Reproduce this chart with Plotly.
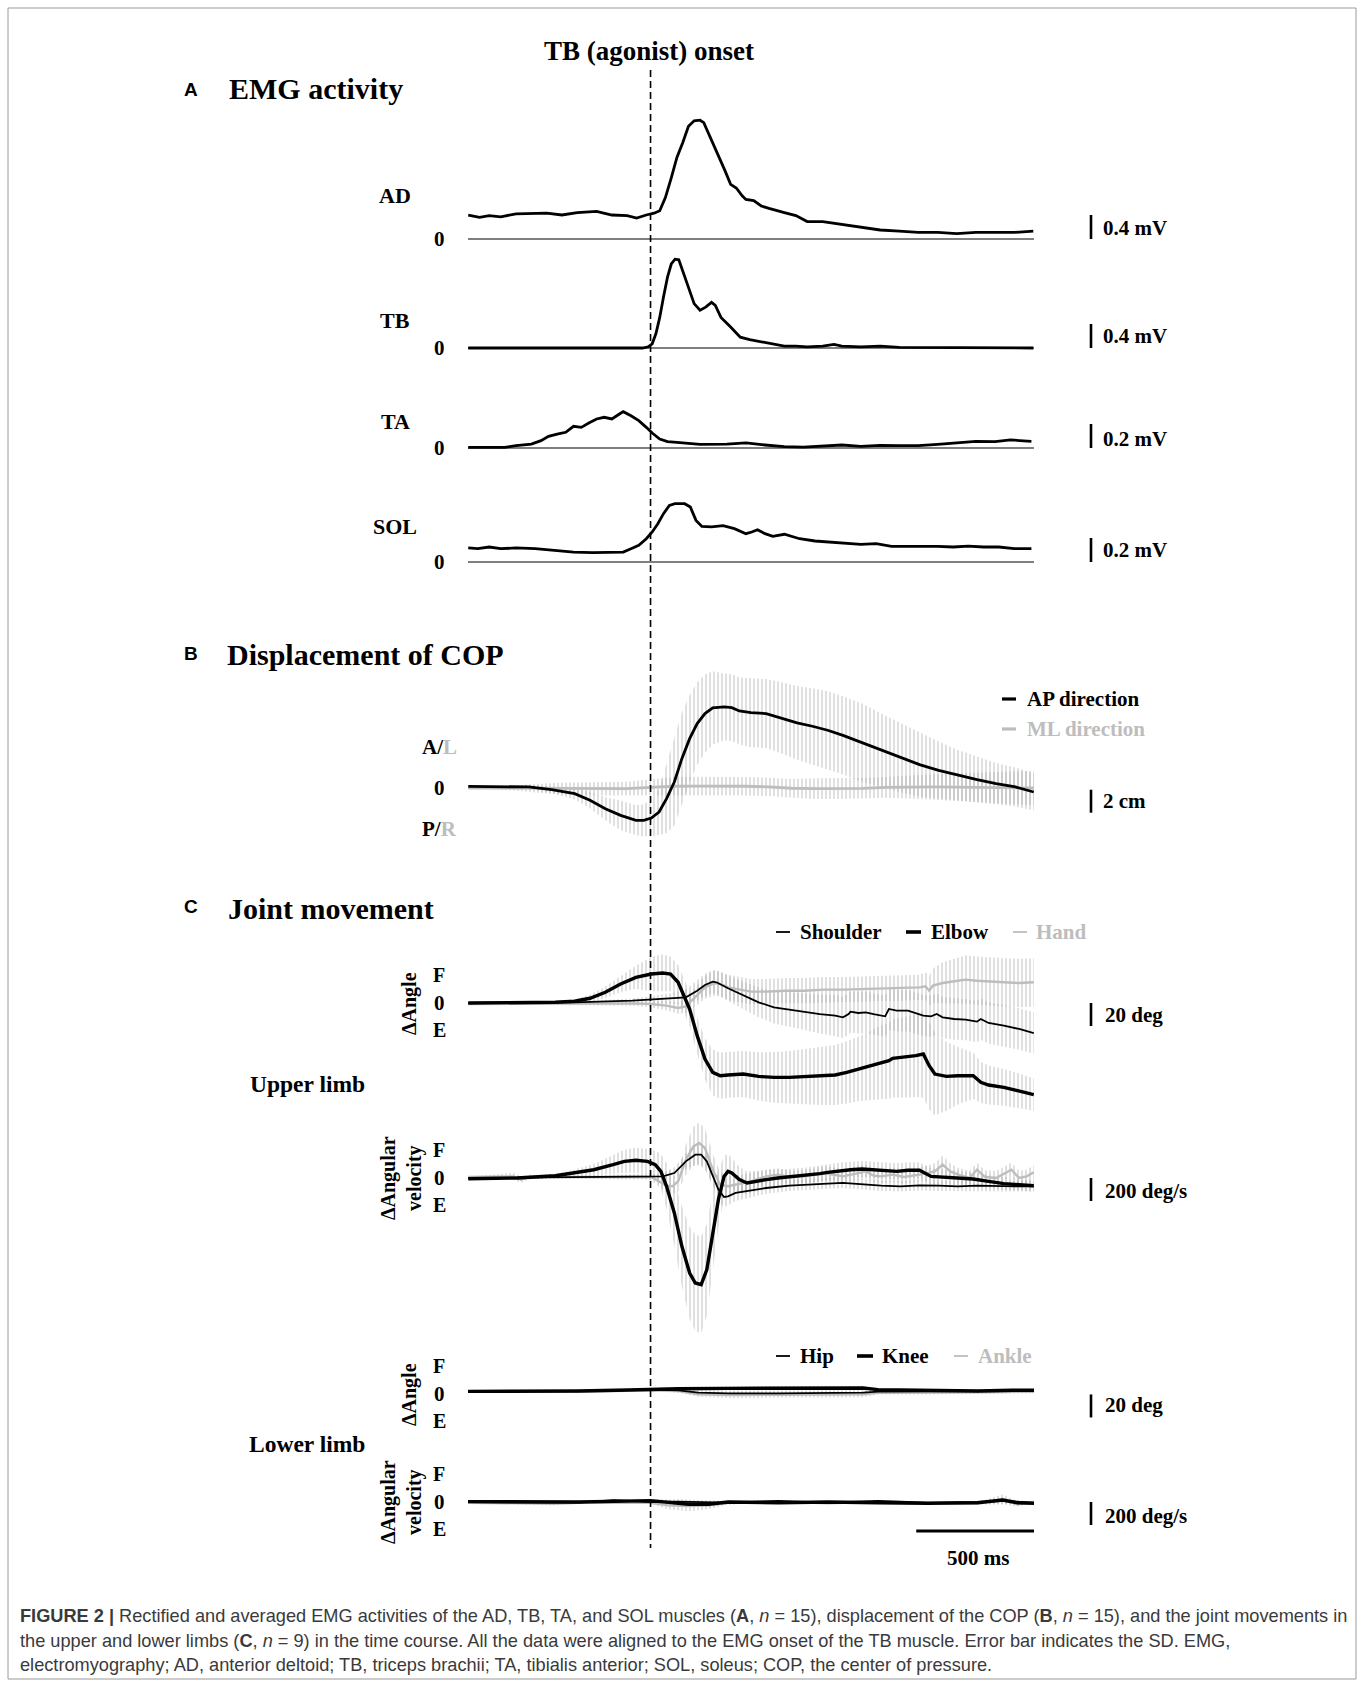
import plotly.graph_objects as go

W, H = 1363, 1686

# ---------------- DATA ----------------
# A: EMG (mV), time in ms relative to TB onset
t_ad = [-774, -726, -685, -636, -571, -506, -441, -376, -311, -229, -164, -99, -59, -18, 15, 39, 63, 88, 112, 137, 161, 185, 210, 226, 242, 267, 291, 316, 340, 364, 389, 405, 438, 470, 503, 535, 568, 617, 665, 731, 812, 893, 975, 1056, 1137, 1219, 1300, 1381, 1463, 1544, 1625]
ad = [0.40, 0.36, 0.39, 0.37, 0.42, 0.43, 0.43, 0.40, 0.44, 0.46, 0.40, 0.39, 0.35, 0.40, 0.43, 0.47, 0.69, 1.02, 1.36, 1.61, 1.88, 1.97, 1.98, 1.94, 1.80, 1.58, 1.36, 1.14, 0.91, 0.85, 0.72, 0.66, 0.64, 0.55, 0.51, 0.47, 0.44, 0.39, 0.29, 0.29, 0.24, 0.19, 0.15, 0.13, 0.11, 0.11, 0.09, 0.11, 0.11, 0.11, 0.13]

t_tb = [-774, -34, -10, 7, 23, 39, 55, 72, 88, 104, 120, 137, 161, 185, 210, 234, 259, 275, 299, 340, 381, 421, 470, 519, 568, 617, 665, 731, 779, 812, 893, 975, 1056, 1625]
tb = [0, 0, 0.02, 0.07, 0.24, 0.51, 0.85, 1.18, 1.40, 1.48, 1.47, 1.29, 1.01, 0.74, 0.63, 0.68, 0.76, 0.71, 0.51, 0.35, 0.18, 0.14, 0.10, 0.07, 0.03, 0.03, 0.02, 0.03, 0.06, 0.03, 0.02, 0.03, 0.01, 0]

t_ta = [-774, -620, -571, -506, -465, -433, -392, -360, -327, -294, -262, -229, -197, -164, -132, -116, -83, -50, -18, 7, 39, 72, 112, 210, 324, 405, 486, 568, 649, 731, 812, 893, 975, 1056, 1137, 1219, 1300, 1381, 1463, 1528, 1617]
ta = [0.006, 0.006, 0.019, 0.033, 0.061, 0.097, 0.117, 0.131, 0.181, 0.172, 0.208, 0.242, 0.256, 0.242, 0.283, 0.303, 0.269, 0.228, 0.172, 0.125, 0.075, 0.053, 0.047, 0.031, 0.033, 0.042, 0.025, 0.011, 0.008, 0.019, 0.025, 0.014, 0.022, 0.019, 0.019, 0.031, 0.042, 0.056, 0.053, 0.067, 0.056]

t_sol = [-774, -734, -685, -636, -571, -490, -408, -327, -246, -181, -116, -83, -50, -18, 7, 31, 55, 80, 104, 145, 169, 193, 218, 259, 308, 356, 405, 430, 454, 486, 519, 568, 633, 698, 763, 828, 893, 958, 1023, 1088, 1154, 1219, 1284, 1349, 1414, 1479, 1544, 1617]
sol = [0.117, 0.111, 0.125, 0.111, 0.117, 0.111, 0.097, 0.083, 0.078, 0.081, 0.083, 0.111, 0.139, 0.194, 0.250, 0.319, 0.403, 0.472, 0.486, 0.486, 0.458, 0.347, 0.297, 0.292, 0.303, 0.278, 0.236, 0.250, 0.269, 0.236, 0.214, 0.231, 0.194, 0.175, 0.167, 0.153, 0.147, 0.153, 0.131, 0.131, 0.133, 0.131, 0.125, 0.133, 0.125, 0.125, 0.111, 0.111]

# B: COP displacement (cm)
t_ap = [-774, -648, -517, -420, -322, -257, -192, -127, -62, -29, 3, 36, 68, 101, 133, 166, 198, 231, 264, 312, 345, 377, 426, 491, 556, 622, 687, 752, 817, 898, 979, 1061, 1142, 1223, 1305, 1386, 1467, 1549, 1627]
ap = [0.14, 0.09, 0.09, -0.15, -0.49, -1.07, -1.80, -2.38, -2.81, -2.81, -2.61, -2.09, -0.93, 0.52, 2.55, 4.29, 5.60, 6.47, 6.96, 7.05, 6.99, 6.70, 6.55, 6.47, 6.09, 5.66, 5.37, 5.02, 4.58, 3.94, 3.28, 2.64, 2.03, 1.54, 1.10, 0.73, 0.38, 0.09, -0.35]
ap_sd = [0.05, 0.1, 0.2, 0.3, 0.5, 0.7, 1.0, 1.3, 1.3, 1.4, 1.6, 2.0, 3.0, 3.8, 4.0, 3.8, 3.6, 3.4, 3.2, 2.9, 2.9, 2.9, 3.0, 3.0, 3.1, 3.2, 3.3, 3.4, 3.4, 3.4, 3.2, 3.0, 2.8, 2.5, 2.2, 2.0, 1.8, 1.7, 1.6]

t_ml = [-774, -600, -400, -200, -100, 0, 100, 200, 300, 400, 500, 600, 700, 800, 900, 1000, 1100, 1200, 1300, 1400, 1500, 1627]
ml = [0.0, 0.0, -0.05, -0.06, -0.06, 0.05, 0.15, 0.17, 0.17, 0.15, 0.1, -0.02, -0.06, -0.06, -0.03, 0.05, 0.09, 0.1, 0.08, 0.05, 0.02, 0.0]
ml_sd = [0.05, 0.2, 0.5, 0.6, 0.6, 0.7, 0.8, 0.8, 0.8, 0.8, 0.8, 0.8, 0.9, 0.9, 0.9, 0.9, 1.0, 1.1, 1.2, 1.3, 1.4, 1.5]

# C: upper limb angle (deg)
t_sh = [-774, -322, -78, 3, 101, 150, 198, 231, 264, 280, 329, 394, 459, 524, 589, 654, 719, 784, 817, 841, 849, 882, 914, 947, 996, 1012, 1045, 1093, 1126, 1158, 1191, 1215, 1240, 1289, 1337, 1386, 1402, 1435, 1500, 1565, 1627]
shoulder = [0, 0.6, 2.0, 2.9, 4.1, 4.9, 10.7, 15.7, 18.6, 18.0, 12.8, 6.4, 0.6, -3.8, -5.8, -7.5, -9.6, -11.0, -12.5, -9.6, -7.5, -8.7, -8.1, -9.6, -11.6, -5.2, -6.7, -6.7, -8.7, -11.0, -11.6, -9.6, -12.5, -13.9, -14.5, -16.2, -13.9, -17.4, -19.7, -22.6, -26.1]
shoulder_sd = [0.3, 1, 2, 3, 5, 7, 9, 10, 10, 10, 11, 12, 13, 14, 15, 16, 17, 18, 18, 18, 18, 18, 18, 18, 18, 18, 18, 18, 18, 18, 18, 18, 18, 18, 18, 18, 18, 18, 18, 18, 18]

t_el = [-774, -404, -322, -257, -192, -127, -62, 3, 52, 85, 117, 142, 166, 198, 231, 264, 296, 329, 394, 459, 524, 589, 654, 719, 784, 833, 882, 931, 979, 1012, 1028, 1077, 1126, 1158, 1183, 1207, 1256, 1305, 1370, 1402, 1435, 1500, 1565, 1627]
elbow = [0, 0.6, 1.5, 4.1, 9.3, 16.5, 22.3, 25.2, 26.1, 25.2, 18.0, 6.4, -5.2, -28.4, -48.7, -60.3, -63.2, -62.6, -61.8, -63.8, -64.7, -64.7, -64.1, -63.8, -62.6, -60.3, -57.4, -54.5, -51.6, -50.2, -48.1, -47.3, -45.8, -44.4, -54.5, -61.8, -63.8, -63.2, -63.2, -69.0, -71.3, -73.4, -76.3, -79.7]
elbow_sd = [0.3, 1, 2, 3, 5, 7, 10, 15, 16, 15, 15, 15, 15, 16, 18, 20, 20, 20, 20, 21, 22, 23, 24, 25, 26, 27, 28, 30, 32, 33, 34, 35, 36, 38, 38, 36, 30, 25, 20, 18, 17, 16, 15, 14]

t_ha = [-774, -78, 3, 68, 117, 150, 182, 231, 272, 296, 329, 377, 426, 491, 573, 654, 735, 817, 898, 979, 1061, 1142, 1167, 1183, 1199, 1240, 1305, 1337, 1386, 1435, 1500, 1565, 1627]
hand = [-0.9, -0.3, -0.9, -2.3, -4.3, -2.9, 3.5, 13.6, 17.4, 16.5, 13.6, 11.6, 9.9, 9.9, 10.7, 10.7, 11.6, 11.6, 12.2, 12.8, 12.8, 13.6, 14.5, 10.7, 15.1, 17.4, 19.4, 20.3, 19.4, 18.6, 18.0, 17.4, 18.0]
hand_sd = [0.3, 2, 3, 4, 5, 6, 8, 10, 11, 11, 11, 11, 11, 11, 11, 11, 11, 11, 11, 11, 11, 11, 12, 13, 15, 18, 20, 21, 21, 21, 21, 21, 21]

# C: upper limb angular velocity (deg/s)
t_shv = [-774, 3, 52, 101, 150, 190, 215, 239, 264, 288, 312, 329, 361, 426, 491, 589, 654, 752, 817, 898, 979, 1061, 1142, 1223, 1305, 1386, 1467, 1549, 1627]
shoulder_v = [0, 9, 14, 43, 145, 203, 203, 145, 14, -101, -165, -159, -130, -107, -87, -67, -58, -49, -43, -58, -67, -72, -64, -67, -72, -67, -72, -72, -72]
shoulder_v_sd = [5, 20, 30, 50, 70, 90, 100, 100, 100, 100, 90, 80, 70, 60, 50, 45, 45, 45, 45, 45, 45, 45, 45, 45, 45, 45, 45, 45, 45]

t_elv = [-774, -566, -404, -322, -241, -159, -111, -62, -13, 20, 44, 68, 101, 133, 166, 190, 215, 239, 264, 288, 312, 329, 345, 377, 410, 443, 491, 540, 589, 654, 719, 752, 784, 817, 849, 898, 947, 996, 1045, 1093, 1142, 1191, 1240, 1305, 1370, 1435, 1500, 1565, 1627]
elbow_v = [-6, 0, 20, 43, 72, 116, 145, 154, 145, 116, 58, -72, -304, -594, -826, -913, -928, -797, -478, -188, 14, 58, 43, -14, -43, -29, -14, 0, 9, 20, 38, 49, 58, 67, 72, 78, 72, 67, 58, 67, 67, 14, 9, 0, -9, -29, -49, -58, -67]
elbow_v_sd = [5, 10, 20, 30, 50, 80, 100, 110, 110, 120, 150, 200, 280, 350, 400, 420, 420, 400, 350, 250, 180, 150, 130, 110, 100, 90, 80, 75, 70, 70, 70, 70, 70, 70, 70, 70, 70, 70, 70, 70, 70, 70, 65, 60, 60, 55, 55, 50, 50]

t_hav = [-774, -582, -550, -517, -322, -29, 3, 36, 68, 93, 117, 150, 182, 207, 231, 264, 296, 329, 361, 426, 491, 540, 589, 654, 735, 784, 817, 882, 914, 947, 979, 1028, 1077, 1142, 1207, 1240, 1272, 1305, 1354, 1386, 1419, 1467, 1532, 1565, 1597, 1627]
hand_v = [9, 14, -14, 9, 9, 14, 9, -29, -67, -72, -29, 159, 275, 304, 261, 72, -58, -72, -58, -29, 14, 29, 9, 14, 43, 29, 14, 43, 58, 20, 14, 29, 9, 29, 58, 116, 58, 29, 0, 72, 9, 0, 72, 0, 14, 49]
hand_v_sd = [5, 30, 30, 20, 10, 20, 30, 50, 60, 70, 90, 130, 170, 180, 170, 140, 110, 90, 80, 70, 60, 55, 55, 55, 60, 60, 60, 60, 60, 60, 60, 60, 60, 60, 70, 80, 70, 60, 60, 60, 60, 60, 60, 60, 60, 60]

# C: lower limb angle (deg)
t_hip = [-775, -305, 0, 119, 203, 330, 542, 902, 965, 1177, 1389, 1628]
hip = [0, 0, 1.2, 0.6, -1.5, -2.0, -2.0, -1.5, -0.6, -0.6, -0.6, 0]
hip_sd = [0.3, 0.5, 1, 1.5, 2, 2, 2, 2, 1.5, 1.5, 1.5, 1.5]
t_knee = [-775, -305, -93, 0, 119, 330, 542, 902, 965, 1177, 1389, 1537, 1628]
knee = [-0.3, 0, 0.9, 1.5, 2.0, 2.3, 2.6, 2.6, 1.2, 0.6, 0, 0.6, 0.6]
knee_sd = [0.3, 0.5, 0.8, 1, 1.5, 2, 2, 2, 1.5, 1.5, 1.5, 1.5, 1.5]
t_ank = [-775, -305, 0, 119, 203, 330, 542, 902, 965, 1177, 1389, 1628]
ankle = [-0.6, -0.6, 0.6, 0, -2.9, -3.5, -3.2, -2.9, -1.5, -1.5, -1.2, -0.6]
ankle_sd = [0.3, 0.5, 1, 1.5, 2, 2.5, 2.5, 2.5, 1.5, 1.5, 1.5, 1.5]

# C: lower limb angular velocity (deg/s)
t_hipv = [-775, -305, -157, -93, 0, 119, 330, 542, 754, 965, 1177, 1389, 1495, 1628]
hip_v = [0, -6, 17, 9, 0, 3, -6, 9, -6, 9, -6, 0, 9, -6]
hip_v_sd = [5, 8, 10, 10, 15, 20, 15, 10, 10, 10, 10, 10, 20, 10]
t_kneev = [-775, -305, 0, 76, 161, 246, 330, 542, 754, 965, 1177, 1389, 1495, 1558, 1628]
knee_v = [3, 0, 12, 0, -20, -20, 0, -6, 0, -6, -12, -6, 17, -6, -12]
knee_v_sd = [5, 8, 12, 20, 25, 25, 15, 10, 10, 10, 10, 10, 25, 15, 10]
t_ankv = [-775, -411, -305, 0, 76, 161, 246, 330, 542, 754, 965, 1177, 1389, 1495, 1558, 1628]
ankle_v = [-6, -15, -6, -6, -29, -35, -29, -6, 3, -12, 3, -6, -12, 23, -20, 0]
ankle_v_sd = [5, 15, 8, 12, 35, 45, 35, 15, 10, 10, 10, 10, 10, 45, 20, 10]

# ---------------- LAYOUT HELPERS ----------------
SERIF = "Liberation Serif"
SANS = "Liberation Sans"
GRAY = "#bdbdbd"
BAR = "#a9a9a9"


def px(x):
    return x / W


def py(y):
    return 1 - y / H


T0, T1 = -775, 1628
XL, XR = 468, 1034

fig = go.Figure()
layout = dict(
    width=W, height=H, margin=dict(l=0, r=0, t=0, b=0),
    paper_bgcolor="white", plot_bgcolor="rgba(0,0,0,0)", showlegend=False,
    xaxis=dict(domain=[px(XL), px(XR)], range=[T0, T1], visible=False, fixedrange=True),
)

# panel: name -> (zero pixel, pixels per unit, top px, bottom px)
panels = {
    "ad": (239, 60, 95, 246),
    "tb": (348, 60, 246, 355),
    "ta": (448, 120, 370, 455),
    "sol": (562, 120, 470, 568),
    "cop": (788, 11.5, 660, 860),
    "ua": (1003, 1.15, 930, 1130),
    "uv": (1178, 0.115, 1105, 1350),
    "la": (1391, 1.15, 1365, 1425),
    "lv": (1502, 0.115, 1465, 1540),
}
yref = {}
for i, (name, (z, k, top, bot)) in enumerate(panels.items()):
    idx = i + 1
    key = "yaxis" if idx == 1 else "yaxis%d" % idx
    layout[key] = dict(domain=[py(bot), py(top)], range=[(z - bot) / k, (z - top) / k],
                       visible=False, fixedrange=True, anchor="x")
    yref[name] = "y" if idx == 1 else "y%d" % idx


def band(t, m, sd, panel):
    up = [a + b for a, b in zip(m, sd)]
    lo = [a - b for a, b in zip(m, sd)]
    fig.add_trace(go.Scatter(
        x=list(t) + list(t)[::-1], y=up + lo[::-1], yaxis=yref[panel], xaxis="x",
        mode="lines", line=dict(width=0), fill="toself", fillcolor="rgba(0,0,0,0)",
        fillpattern=dict(shape="|", fgcolor=BAR, bgcolor="rgba(0,0,0,0)", size=4, solidity=0.36),
        hoverinfo="skip"))


def line(t, v, panel, color="black", width=2.8):
    fig.add_trace(go.Scatter(x=t, y=v, yaxis=yref[panel], xaxis="x", mode="lines",
                             line=dict(color=color, width=width), hoverinfo="skip"))


# SD bands first
band(t_ap, ap, ap_sd, "cop")
band(t_ml, ml, ml_sd, "cop")
band(t_sh, shoulder, shoulder_sd, "ua")
band(t_el, elbow, elbow_sd, "ua")
band(t_ha, hand, hand_sd, "ua")
band(t_shv, shoulder_v, shoulder_v_sd, "uv")
band(t_elv, elbow_v, elbow_v_sd, "uv")
band(t_hav, hand_v, hand_v_sd, "uv")
band(t_hip, hip, hip_sd, "la")
band(t_knee, knee, knee_sd, "la")
band(t_ank, ankle, ankle_sd, "la")
band(t_hipv, hip_v, hip_v_sd, "lv")
band(t_kneev, knee_v, knee_v_sd, "lv")
band(t_ankv, ankle_v, ankle_v_sd, "lv")

# EMG lines
line(t_ad, ad, "ad")
line(t_tb, tb, "tb")
line(t_ta, ta, "ta")
line(t_sol, sol, "sol")
# COP
line(t_ml, ml, "cop", GRAY, 2.8)
line(t_ap, ap, "cop", "black", 2.8)
# Upper limb
line(t_ha, hand, "ua", GRAY, 2.4)
line(t_sh, shoulder, "ua", "black", 1.8)
line(t_el, elbow, "ua", "black", 3.4)
line(t_hav, hand_v, "uv", GRAY, 2.4)
line(t_shv, shoulder_v, "uv", "black", 1.8)
line(t_elv, elbow_v, "uv", "black", 3.4)
# Lower limb
line(t_ank, ankle, "la", GRAY, 2.4)
line(t_hip, hip, "la", "black", 1.8)
line(t_knee, knee, "la", "black", 3.4)
line(t_ankv, ankle_v, "lv", GRAY, 2.4)
line(t_hipv, hip_v, "lv", "black", 1.8)
line(t_kneev, knee_v, "lv", "black", 3.4)

shapes = []
# zero lines of EMG panels
for p in ["ad", "tb", "ta", "sol"]:
    shapes.append(dict(type="line", xref="x", yref=yref[p], x0=T0, x1=T1, y0=0, y1=0,
                       line=dict(color="#555555", width=1.3), layer="below"))

# scale bars (vertical)
XB = px(1091)
scale_bars = [("ad", 0, 0.4), ("tb", 0, 0.4), ("ta", 0, 0.2), ("sol", 0, 0.2),
              ("cop", -0.15, -2.15), ("ua", 0, -20), ("uv", 0, -200),
              ("la", -3, -23), ("lv", 0, -200)]
for p, a, b in scale_bars:
    shapes.append(dict(type="line", xref="paper", yref=yref[p], x0=XB, x1=XB, y0=a, y1=b,
                       line=dict(color="black", width=2.6)))

# time scale bar 500 ms
shapes.append(dict(type="line", xref="x", yref="paper", x0=T1 - 500, x1=T1,
                   y0=py(1531), y1=py(1531), line=dict(color="black", width=3)))

# TB onset dashed line
shapes.append(dict(type="line", xref="x", yref="paper", x0=0, x1=0, y0=py(70), y1=py(1548),
                   line=dict(color="black", width=1.6, dash="7px,4px")))

# legend dashes
def dash(x0, x1, y, color, width):
    shapes.append(dict(type="line", xref="paper", yref="paper", x0=px(x0), x1=px(x1),
                       y0=py(y), y1=py(y), line=dict(color=color, width=width)))

dash(1002, 1016, 699, "black", 3.2)
dash(1002, 1016, 729, GRAY, 3.2)
dash(776, 790, 932, "black", 1.8)
dash(906, 921, 932, "black", 3.6)
dash(1013, 1027, 932, GRAY, 1.8)
dash(776, 790, 1356, "black", 1.8)
dash(857, 873, 1356, "black", 3.6)
dash(954, 968, 1356, GRAY, 1.8)

# frame
shapes.append(dict(type="rect", xref="paper", yref="paper", x0=px(8), x1=px(1356),
                   y0=py(1679), y1=py(8), line=dict(color="#9a9a9a", width=1)))

annotations = []


def ann(text, x, y, size=21, color="black", xanchor="center", family=SERIF, angle=0, bold=True):
    if bold:
        text = "<b>" + text.replace("<br>", "</b><br><b>") + "</b>"
    annotations.append(dict(text=text, x=px(x), y=py(y), xref="paper", yref="paper",
                            xanchor=xanchor, yanchor="middle", showarrow=False, textangle=angle,
                            font=dict(family=family, size=size, color=color)))


ann("TB (agonist) onset", 649, 51, size=27)
ann("A", 191, 89, size=19, family=SANS)
ann("EMG activity", 227, 88, size=30, xanchor="left")
ann("B", 191, 653, size=19, family=SANS)
ann("Displacement of COP", 225, 654, size=30, xanchor="left")
ann("C", 191, 906, size=19, family=SANS)
ann("Joint movement", 226, 908, size=30, xanchor="left")

for lab, y in [("AD", 195), ("TB", 320), ("TA", 421), ("SOL", 527)]:
    ann(lab, 395, y, size=22)
for y in [239, 348, 448, 562, 788, 1003, 1178, 1394, 1502]:
    ann("0", 439, y, size=21)

for txt, y in [("0.4 mV", 228), ("0.4 mV", 336), ("0.2 mV", 439), ("0.2 mV", 550)]:
    ann(txt, 1101, y, xanchor="left")

ann("A/<span style='color:#bdbdbd'>L</span>", 439, 747)
ann("P/<span style='color:#bdbdbd'>R</span>", 439, 829)
ann("AP direction", 1025, 699, xanchor="left")
ann("ML direction", 1025, 729, xanchor="left", color=GRAY)
ann("2 cm", 1101, 801, xanchor="left")

ann("Shoulder", 798, 932, xanchor="left")
ann("Elbow", 929, 932, xanchor="left")
ann("Hand", 1034, 932, xanchor="left", color=GRAY)
ann("Hip", 798, 1356, xanchor="left")
ann("Knee", 880, 1356, xanchor="left")
ann("Ankle", 976, 1356, xanchor="left", color=GRAY)

for yc in [1003, 1394]:
    ann("ΔAngle", 409, yc, size=20, angle=-90)
    ann("F", 439, yc - 28, size=20)
    ann("E", 439, yc + 27, size=20)
for yc in [1178, 1502]:
    ann("ΔAngular<br>velocity", 401, yc, size=20, angle=-90)
    ann("F", 439, yc - 28, size=20)
    ann("E", 439, yc + 27, size=20)

ann("20 deg", 1103, 1015, xanchor="left")
ann("200 deg/s", 1103, 1191, xanchor="left")
ann("20 deg", 1103, 1405, xanchor="left")
ann("200 deg/s", 1103, 1516, xanchor="left")
ann("Upper limb", 307, 1084, size=23.5)
ann("Lower limb", 307, 1444, size=23.5)
ann("500 ms", 978, 1558)

cap = [
    "<b>FIGURE 2 |</b> Rectified and averaged EMG activities of the AD, TB, TA, and SOL muscles (<b>A</b>, <i>n</i> = 15), displacement of the COP (<b>B</b>, <i>n</i> = 15), and the joint movements in",
    "the upper and lower limbs (<b>C</b>, <i>n</i> = 9) in the time course. All the data were aligned to the EMG onset of the TB muscle. Error bar indicates the SD. EMG,",
    "electromyography; AD, anterior deltoid; TB, triceps brachii; TA, tibialis anterior; SOL, soleus; COP, the center of pressure.",
]
for txt, y in zip(cap, [1616, 1641, 1665]):
    ann(txt, 18, y, size=18.2, xanchor="left", family=SANS, color="#3a3a3a", bold=False)

layout["shapes"] = shapes
layout["annotations"] = annotations
fig.update_layout(**layout)
fig.write_html("out.html")
